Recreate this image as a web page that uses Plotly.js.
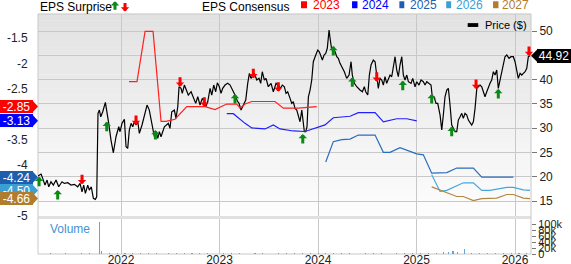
<!DOCTYPE html>
<html><head><meta charset="utf-8">
<script src="https://cdn.plot.ly/plotly-3.0.1.min.js"></script>
<style>html,body{margin:0;padding:0;background:#fff;overflow:hidden}#chart{width:571px;height:264px}</style>
</head><body><div id="chart"></div>
<script>
// ---------- DATA ----------
const priceDates = [
2021.157,2021.188,2021.205,2021.228,2021.249,2021.266,2021.289,2021.313,2021.340,2021.367,
2021.401,2021.424,2021.459,2021.492,2021.526,2021.560,2021.584,2021.604,2021.621,2021.638,
2021.662,2021.678,2021.698,2021.719,2021.739,2021.753,2021.766,2021.780,2021.794,2021.814,
2021.841,2021.855,2021.875,2021.898,2021.922,2021.949,2021.977,2021.990,2022.010,2022.034,
2022.051,2022.068,2022.084,2022.102,2022.119,2022.135,2022.152,2022.170,2022.186,2022.213,
2022.226,2022.247,2022.264,2022.287,2022.305,2022.322,2022.338,2022.355,2022.373,2022.389,
2022.406,2022.440,2022.480,2022.497,2022.515,2022.541,2022.558,2022.576,2022.589,2022.609,
2022.622,2022.643,2022.667,2022.683,2022.711,2022.734,2022.758,2022.779,2022.802,2022.825,
2022.846,2022.860,2022.880,2022.904,2022.921,2022.941,2022.961,2022.978,2022.998,2023.015,
2023.032,2023.056,2023.083,2023.107,2023.134,2023.157,2023.181,2023.198,2023.218,2023.242,
2023.266,2023.286,2023.303,2023.320,2023.337,2023.353,2023.378,2023.401,2023.418,2023.434,
2023.455,2023.472,2023.495,2023.523,2023.546,2023.574,2023.597,2023.617,2023.638,2023.658,
2023.675,2023.692,2023.716,2023.733,2023.749,2023.766,2023.784,2023.800,2023.817,2023.835,
2023.851,2023.861,2023.875,2023.888,2023.902,2023.919,2023.936,2023.952,2023.977,2023.997,
2024.013,2024.030,2024.044,2024.061,2024.078,2024.094,2024.105,2024.112,2024.122,2024.139,
2024.155,2024.173,2024.190,2024.206,2024.223,2024.241,2024.267,2024.291,2024.315,2024.335,
2024.348,2024.369,2024.393,2024.426,2024.450,2024.470,2024.484,2024.505,2024.521,2024.538,
2024.561,2024.579,2024.596,2024.612,2024.629,2024.647,2024.663,2024.680,2024.697,2024.714,
2024.731,2024.748,2024.764,2024.782,2024.799,2024.815,2024.832,2024.850,2024.866,2024.883,
2024.901,2024.917,2024.944,2024.961,2024.985,2025.002,2025.025,2025.046,2025.069,2025.086,
2025.104,2025.127,2025.147,2025.160,2025.178,2025.198,2025.215,2025.239,2025.256,2025.272,
2025.289,2025.307,2025.323,2025.340,2025.357,2025.374,2025.391,2025.408,2025.424,2025.442,
2025.459,2025.475,2025.492,2025.510,2025.526,2025.560,2025.577,2025.594,2025.612,2025.627,
2025.645,2025.662,2025.678,2025.695,2025.713,2025.729,2025.746,2025.763,2025.780,2025.797,
2025.814,2025.830,2025.848,2025.865,2025.881,2025.898,2025.916,2025.939,2025.959,2025.983,
2026.000,2026.017,2026.033,2026.051,2026.068,2026.084,2026.102,2026.119,2026.135,2026.152];
const priceValues = [
20.14,20.56,19.67,18.29,19.32,17.94,18.97,18.29,19.32,17.94,
18.97,18.64,18.77,18.29,18.44,17.94,18.64,16.91,18.29,16.58,
18.29,17.26,17.94,15.55,15.35,15.88,33.05,33.73,32.35,33.38,
35.32,33.05,31.00,27.56,24.94,28.24,30.30,29.27,31.00,31.82,
26.18,25.85,29.62,31.00,30.30,31.32,30.65,31.32,28.94,30.65,
31.67,33.05,34.76,33.73,31.67,29.27,28.24,29.27,27.91,29.27,
28.24,30.30,31.00,29.97,33.38,33.73,32.02,34.41,38.53,38.20,
37.17,38.88,37.85,36.82,37.50,36.47,35.11,36.47,34.76,36.14,
35.44,34.41,35.44,38.20,36.82,38.88,37.50,39.35,38.53,37.17,
38.20,38.88,39.23,38.88,37.85,36.82,35.59,35.11,33.73,34.76,
35.79,39.23,41.29,40.26,40.94,41.29,39.91,40.26,39.23,41.62,
39.91,40.26,38.53,39.23,37.50,39.23,38.88,38.20,38.88,38.53,
37.17,37.50,36.14,35.11,35.44,34.08,33.73,32.35,31.32,33.73,
30.65,29.27,29.27,30.30,36.47,37.85,39.91,43.68,45.06,46.09,
45.74,44.71,44.03,45.06,45.41,46.44,48.83,50.20,48.50,46.09,
46.44,45.74,44.71,44.38,43.35,42.65,41.62,40.26,40.94,43.68,
40.94,39.23,38.53,37.85,37.50,38.53,37.50,36.82,40.94,43.00,
44.03,43.68,40.94,38.20,40.26,39.91,38.88,40.59,39.23,40.26,
40.94,40.59,42.32,44.71,41.97,40.59,43.00,44.71,40.94,39.91,
40.94,39.56,39.23,40.26,38.53,39.56,38.88,39.91,39.56,38.88,
39.56,39.23,38.88,36.47,36.47,35.11,35.11,32.70,29.62,32.70,
36.47,37.85,38.20,34.76,30.65,29.97,29.27,29.27,31.67,32.35,
33.05,32.02,33.05,32.70,31.67,30.65,31.32,34.08,38.20,38.53,
38.88,38.53,37.50,36.47,37.50,38.53,39.23,39.91,41.62,40.94,
41.97,38.20,39.91,41.62,43.35,44.71,45.06,44.38,44.71,44.71,
43.68,41.62,40.26,41.29,40.94,41.29,41.62,42.32,44.71,44.92];

const cons2023Dates = [2022.081,2022.162,2022.244,2022.325,2022.406,2022.457,2022.548,2022.667,2022.853,2022.954,2023.073,2023.175,2023.208,2023.259,2023.327,2023.563,2023.648,2023.800,2023.987];
const cons2023Values = [-2.36,-2.36,-1.37,-1.37,-3.14,-3.14,-3.10,-2.85,-2.85,-2.91,-2.80,-2.80,-2.88,-2.80,-2.75,-2.75,-2.88,-2.88,-2.85];
const cons2024Dates = [2023.073,2023.140,2023.259,2023.327,2023.462,2023.546,2023.614,2023.749,2023.868,2024.003,2024.071,2024.155,2024.325,2024.409,2024.579,2024.663,2024.799,2024.901,2025.002];
const cons2024Values = [-2.99,-2.99,-3.18,-3.27,-3.29,-3.21,-3.29,-3.33,-3.34,-3.25,-3.21,-3.07,-3.04,-2.97,-2.97,-3.15,-3.09,-3.09,-3.13];
const cons2025Dates = [2024.078,2024.155,2024.241,2024.325,2024.409,2024.579,2024.663,2024.731,2024.832,2025.002,2025.069,2025.154,2025.307,2025.408,2025.577,2025.662,2025.814,2025.983];
const cons2025Values = [-3.94,-3.54,-3.50,-3.49,-3.41,-3.41,-3.75,-3.75,-3.66,-3.78,-3.80,-4.16,-4.15,-4.06,-4.06,-4.24,-4.24,-4.24];
const cons2026Dates = [2025.154,2025.239,2025.307,2025.475,2025.577,2025.662,2025.746,2025.916,2025.983,2026.084,2026.152];
const cons2026Values = [-4.19,-4.52,-4.50,-4.35,-4.35,-4.50,-4.50,-4.44,-4.44,-4.49,-4.50];
const cons2027Dates = [2025.154,2025.239,2025.408,2025.475,2025.577,2025.662,2025.814,2025.916,2025.983,2026.084,2026.152];
const cons2027Values = [-4.43,-4.49,-4.62,-4.62,-4.70,-4.66,-4.65,-4.58,-4.58,-4.65,-4.66];
const seriesNames = ['2023','2024','2025','2026','2027'];

const beatDates = [2021.168,2021.357,2021.855,2022.349,2023.157,2023.845,2024.155,2024.348,2024.860,2025.154,2025.357,2025.830];
const beatPrices = [20.0,17.26,31.32,29.62,37.03,28.79,46.91,40.47,39.77,37.03,30.30,38.06];
const missDates = [2021.604,2022.152,2022.599,2022.846,2023.343,2023.597,2024.596,2025.604,2026.142];
const missPrices = [18.44,30.65,38.53,34.41,40.26,37.50,39.56,38.06,44.85];

const volumeDates = [
2021.20,2021.28,2021.36,2021.44,2021.52,2021.60,2021.68,2021.777,2021.80,2021.88,2021.96,
2022.04,2022.12,2022.20,2022.28,2022.36,2022.48,2022.56,2022.64,2022.72,2022.80,2022.88,2022.96,
2023.04,2023.12,2023.20,2023.28,2023.36,2023.44,2023.52,2023.60,2023.68,2023.76,2023.84,2023.92,
2024.00,2024.08,2024.16,2024.24,2024.32,2024.40,2024.48,2024.56,2024.64,2024.72,2024.80,2024.88,2024.96,
2025.04,2025.12,2025.20,2025.27,2025.32,2025.37,2025.42,2025.49,2025.56,2025.64,2025.72,2025.80,2025.88,2025.96,
2026.04,2026.12];
const volumeValues = [
1500,2000,1200,1800,1500,2500,2000,108000,9000,4000,3000,
2500,3500,2000,2500,2000,5000,2500,2000,1800,2000,2500,1500,
2000,1800,2200,1500,2000,1800,1500,2000,2500,2000,2500,5000,
3000,2500,2000,1800,2000,1500,2000,1800,2200,1500,2000,1800,2500,
2000,2500,3000,6000,8000,10000,7000,16000,5000,4000,3000,2500,3000,2500,
3000,2500];

const yearTicks = [2022,2023,2024,2025,2026];
const yearLabels = ['2022','2023','2024','2025','2026'];
const epsTicks = [-5,-4,-3.5,-2.5,-2,-1.5];
const epsTickLabels = ['-5','-4','-3.5','-2.5','-2','-1.5'];
const priceTicks = [15,20,25,30,35,40,45,50];
const priceTickLabels = ['15','20','25','30','35','40','','50'];
const volumeTicks = [0,20000,40000,60000,80000,100000];
const volumeTickLabels = ['0','20k','40k','60k','80k','100k'];
const lastPrice = priceValues[priceValues.length-1];

// ---------- STYLE ----------
const FONT = 'Arial, "Liberation Sans", sans-serif';
const lineColors = ['#ff2020','#2020ff','#2a6cbf','#45a8dc','#b58640'];
const boxColors  = ['#ff0000','#0000ff','#1d5fae','#3a9fd3','#b07d2f'];
const legendX = [[0.5335,0.5456,0.5538],[0.637,0.648,0.654],[0.733,0.743,0.750],[0.828,0.838,0.844],[0.923,0.934,0.938]];
const GREEN = '#0b8a16', RED = '#ff0000';
const ARROW = {arrowwidth:3, arrowhead:1, arrowsize:0.47};

const consDates = [cons2023Dates,cons2024Dates,cons2025Dates,cons2026Dates,cons2027Dates];
const consValues = [cons2023Values,cons2024Values,cons2025Values,cons2026Values,cons2027Values];

const traces = [];
traces.push({type:'bar', x:volumeDates, y:volumeValues, xaxis:'x', yaxis:'y3', width:0.011,
  marker:{color:'#5ea6dc', line:{width:0}}, hoverinfo:'skip', showlegend:false});
traces.push({type:'scatter', mode:'lines', x:priceDates, y:priceValues, xaxis:'x', yaxis:'y',
  line:{color:'#000', width:1.2}, hoverinfo:'skip', showlegend:false});
for (let i=0;i<5;i++){
  traces.push({type:'scatter', mode:'lines', x:consDates[i], y:consValues[i], xaxis:'x', yaxis:'y2',
    line:{color:lineColors[i], width:1.2}, hoverinfo:'skip', showlegend:false, name:seriesNames[i]});
}

const shapes = [];
const N = 30, y0m = 0.158;
for (let k=0;k<N;k++){
  const t = k/(N-1);
  const g = Math.round(253 - 27*t);
  shapes.push({type:'rect', xref:'paper', yref:'paper', x0:0, x1:1,
    y0:y0m+(1-y0m)*k/N, y1:y0m+(1-y0m)*(k+1)/N+0.001, fillcolor:`rgb(${g},${g},${g})`, line:{width:0}, layer:'below'});
}
shapes.push({type:'rect', xref:'paper', yref:'paper', x0:0, x1:1, y0:0.146, y1:0.158, fillcolor:'#e1e1e1', line:{width:0}, layer:'below'});
shapes.push({type:'rect', xref:'paper', yref:'paper', x0:0, x1:1, y0:0, y1:1, fillcolor:'rgba(0,0,0,0)', line:{color:'#c8c8c8', width:1}, layer:'below'});
for (let i=0;i<5;i++){
  shapes.push({type:'rect', xref:'paper', yref:'paper', x0:legendX[i][0], x1:legendX[i][1], y0:1.024, y1:1.053, fillcolor:boxColors[i], line:{width:0}});
}
shapes.push({type:'rect', xref:'paper', yref:'paper', x0:0.8716, x1:0.893, y0:0.946, y1:0.962, fillcolor:'#000', line:{width:0}});
for (let i=0;i<5;i++){
  const v = consValues[i][consValues[i].length-1];
  shapes.push({type:'path', xref:'paper', yref:'y2', xsizemode:'pixel', ysizemode:'pixel', xanchor:0, yanchor:v,
    path:'M-6,-6.5 L0,0 L-6,6.5 Z', fillcolor:boxColors[i], line:{width:0}});
}
shapes.push({type:'path', xref:'paper', yref:'y', xsizemode:'pixel', ysizemode:'pixel', xanchor:1, yanchor:lastPrice,
  path:'M0,0 L7,-7 L7,7 Z', fillcolor:'#000', line:{width:0}});

const annotations = [];
annotations.push({xref:'paper', yref:'paper', x:0, y:1.029, xanchor:'left', yanchor:'middle', text:'EPS Surprise', showarrow:false, font:{family:FONT, size:12, color:'#000'}});
annotations.push({xref:'paper', yref:'paper', x:0.3286, y:1.029, xanchor:'left', yanchor:'middle', text:'EPS Consensus', showarrow:false, font:{family:FONT, size:12, color:'#000'}});
annotations.push(Object.assign({xref:'paper', yref:'paper', x:0.1562, y:1.053, text:'', showarrow:true, ax:0, ay:10, arrowcolor:GREEN}, ARROW));
annotations.push(Object.assign({xref:'paper', yref:'paper', x:0.1765, y:1.010, text:'', showarrow:true, ax:0, ay:-10, arrowcolor:RED}, ARROW));
for (let i=0;i<5;i++){
  annotations.push({xref:'paper', yref:'paper', x:legendX[i][2], y:1.036, xanchor:'left', yanchor:'middle', text:seriesNames[i], showarrow:false, font:{family:FONT, size:12, color:boxColors[i]}});
}
annotations.push({xref:'paper', yref:'paper', x:0.902, y:0.953, xanchor:'left', yanchor:'middle', text:'Price ($)', showarrow:false, font:{family:FONT, size:11, color:'#000'}});
annotations.push({xref:'paper', yref:'paper', x:0.0203, y:0.104, xanchor:'left', yanchor:'middle', text:'Volume', showarrow:false, font:{family:FONT, size:12, color:'#4a90d0'}});
for (let i=0;i<beatDates.length;i++){
  annotations.push(Object.assign({xref:'x', yref:'y', x:beatDates[i], y:beatPrices[i], text:'', showarrow:true, ax:0, ay:11, arrowcolor:GREEN}, ARROW));
}
for (let i=0;i<missDates.length;i++){
  annotations.push(Object.assign({xref:'x', yref:'y', x:missDates[i], y:missPrices[i], text:'', showarrow:true, ax:0, ay:-11, arrowcolor:RED}, ARROW));
}
for (let i=0;i<5;i++){
  const v = consValues[i][consValues[i].length-1];
  annotations.push({xref:'paper', yref:'y2', x:0, y:v, xanchor:'right', yanchor:'middle', xshift:-5,
    text:v.toFixed(2), showarrow:false, bgcolor:boxColors[i], borderwidth:0, borderpad:0, width:33, height:13,
    font:{family:FONT, size:12, color:'#fff'}});
}
annotations.push({xref:'paper', yref:'y', x:1, y:lastPrice, xanchor:'left', yanchor:'middle', xshift:6,
  text:lastPrice.toFixed(2), showarrow:false, bgcolor:'#000', borderwidth:0, borderpad:0, width:34, height:14,
  font:{family:FONT, size:12, color:'#fff'}});

const layout = {
  width:571, height:264, margin:{l:38, r:40, t:14, b:10},
  paper_bgcolor:'#fff', plot_bgcolor:'rgba(0,0,0,0)', showlegend:false,
  font:{family:FONT, size:12, color:'#222'},
  xaxis:{range:[2021.157,2026.162], tickvals:yearTicks, ticktext:yearLabels, anchor:'y3',
    showgrid:true, gridcolor:'#c8c8c8', gridwidth:1, zeroline:false, showline:false, ticks:'', ticklabelstandoff:-3, tickfont:{size:12, color:'#222'}},
  yaxis:{domain:[0.158,1], range:[11.91,53.5], side:'right', anchor:'x', tickvals:priceTicks, ticktext:priceTickLabels,
    showgrid:true, gridcolor:'#c8c8c8', gridwidth:1, zeroline:false, showline:false,
    ticks:'outside', ticklen:5, tickcolor:'#777', tickfont:{size:12, color:'#222'}},
  yaxis2:{overlaying:'y', side:'left', anchor:'x', range:[-5.005,-1.028], tickvals:epsTicks, ticktext:epsTickLabels,
    showgrid:false, zeroline:false, showline:false, ticks:'outside', ticklen:7, tickcolor:'rgba(0,0,0,0)', tickfont:{size:12, color:'#222'}},
  yaxis3:{domain:[0,0.146], range:[0,117000], side:'right', anchor:'x', tickvals:volumeTicks, ticktext:volumeTickLabels,
    showgrid:false, zeroline:false, showline:false, ticks:'outside', ticklen:4, tickcolor:'#777', tickfont:{size:11, color:'#222'}},
  bargap:0, shapes:shapes, annotations:annotations
};
Plotly.newPlot('chart', traces, layout, {staticPlot:true, displayModeBar:false});
</script></body></html>
